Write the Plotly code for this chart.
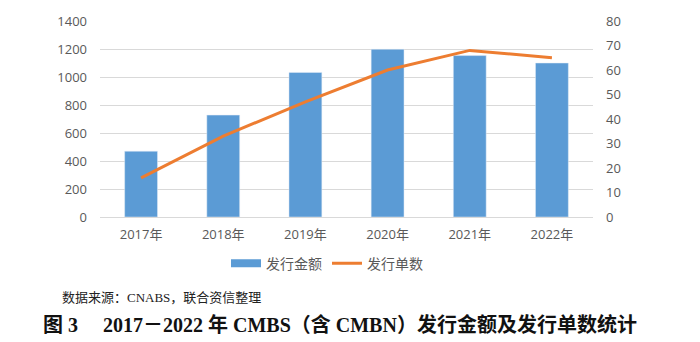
import plotly.graph_objects as go

years = ["2017年", "2018年", "2019年", "2020年", "2021年", "2022年"]
amount = [470, 728, 1033, 1198, 1153, 1100]
count = [16, 33, 47, 60, 68, 65]
left_ticks = [0, 200, 400, 600, 800, 1000, 1200, 1400]
right_ticks = [0, 10, 20, 30, 40, 50, 60, 70, 80]

W, H = 700, 342
L, R, T, B = 100, 107, 19, 125
pw = W - L - R
ph = H - T - B

def px_x(x):
    return (x - L) / pw

def px_y(y):
    return (H - B - y) / ph

BLUE = "#5b9bd5"
ORANGE = "#ed7d31"
tick_font = dict(family="Open Sans, Noto Sans CJK SC, sans-serif", size=13, color="#595959")

fig = go.Figure()
fig.add_trace(go.Bar(x=years, y=amount, name="发行金额", marker_color=BLUE,
                     width=0.4, yaxis="y", showlegend=False))
fig.add_trace(go.Scatter(x=years, y=count, name="发行单数", mode="lines",
                         line=dict(color=ORANGE, width=3), yaxis="y2", showlegend=False))
# legend entries (styled like the reference's wide swatches)
fig.add_trace(go.Scatter(x=[None], y=[None], name="发行金额", mode="lines",
                         line=dict(color=BLUE, width=8), yaxis="y"))
fig.add_trace(go.Scatter(x=[None], y=[None], name="发行单数", mode="lines",
                         line=dict(color=ORANGE, width=3), yaxis="y2"))

fig.update_layout(
    width=W, height=H,
    margin=dict(l=L, r=R, t=T, b=B),
    paper_bgcolor="white", plot_bgcolor="white",
    showlegend=True,
    legend=dict(orientation="h", x=px_x(327), xanchor="center", y=px_y(264), yanchor="middle",
                font=dict(family="Noto Sans CJK SC, sans-serif", size=14, color="#595959"),
                itemwidth=30, bgcolor="rgba(0,0,0,0)"),
    xaxis=dict(type="category", showgrid=False, showline=False, ticks="",
               tickfont=tick_font, ticklabelstandoff=8),
    yaxis=dict(range=[0, 1400], tickvals=left_ticks, showgrid=True, gridcolor="#d9d9d9",
               gridwidth=1, zeroline=True, zerolinecolor="#d9d9d9", zerolinewidth=1,
               showline=False, ticks="", tickfont=tick_font, ticklabelstandoff=12),
    yaxis2=dict(range=[0, 80], tickvals=right_ticks, overlaying="y", side="right",
                showgrid=False, zeroline=False, showline=False, ticks="",
                tickfont=tick_font, ticklabelstandoff=12),
    annotations=[
        dict(text="数据来源：CNABS，联合资信整理", xref="paper", yref="paper",
             x=px_x(60), y=px_y(298), xanchor="left", yanchor="middle", showarrow=False,
             font=dict(family="Liberation Serif, Noto Sans CJK SC, serif", size=13, color="#222222")),
        dict(text="<b>图 3　 2017－2022 年 CMBS（含 CMBN）发行金额及发行单数统计</b>",
             xref="paper", yref="paper",
             x=px_x(340), y=px_y(326), xanchor="center", yanchor="middle", showarrow=False,
             font=dict(family="Liberation Serif, Noto Sans CJK SC, serif", size=20, color="#111111")),
    ],
)

fig.write_html("out.html")
